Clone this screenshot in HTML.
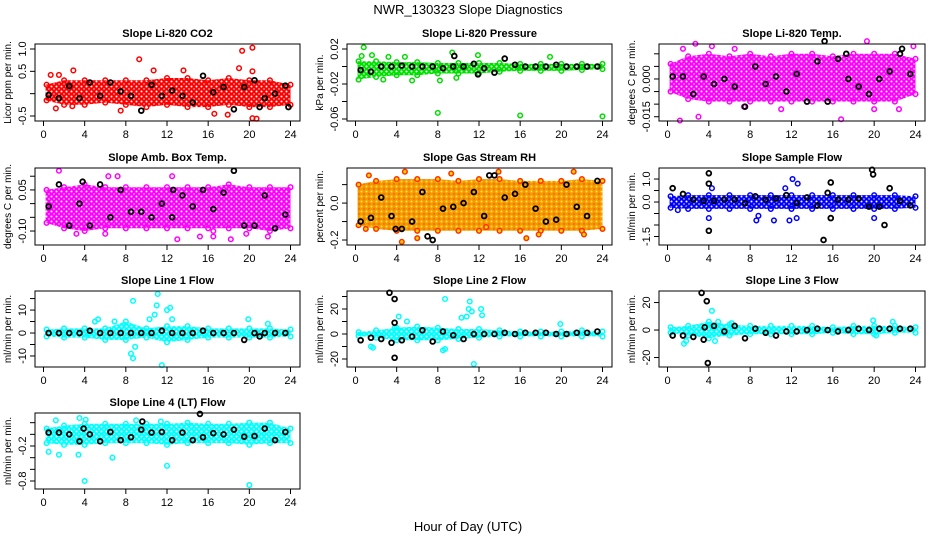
<!DOCTYPE html>
<html><head><meta charset="utf-8"><style>
body{margin:0;background:#fff;}
svg text{font-family:"Liberation Sans",Arial,sans-serif;}
</style></head><body>
<svg id="chart" width="936" height="540" viewBox="0 0 936 540" xmlns="http://www.w3.org/2000/svg">
<rect width="936" height="540" fill="#fff"/>
<defs id="defs"></defs>
<text x="468" y="14" text-anchor="middle" font-size="13">NWR_130323  Slope Diagnostics</text>
<text x="468" y="531" text-anchor="middle" font-size="13">Hour of Day (UTC)</text>
</svg>
<script>
// shared categories
const bandHours = [0,2,4,6,8,10,12,14,16,18,20,22,24];
const blackHours = [0.5,1.5,2.5,3.5,4.5,5.5,6.5,7.5,8.5,9.5,10.5,11.5,12.5,13.5,14.5,15.5,16.5,17.5,18.5,19.5,20.5,21.5,22.5,23.5];
const xTicks = [0,4,8,12,16,20,24];

// panel 1: CO2
const co2Lo = [-0.15,-0.25,-0.25,-0.2,-0.25,-0.3,-0.25,-0.3,-0.3,-0.25,-0.3,-0.3,-0.25];
const co2Hi = [0.2,0.3,0.3,0.3,0.3,0.3,0.35,0.35,0.3,0.35,0.3,0.3,0.2];
const co2Out = [[0.7,0.42],[1.5,0.42],[2.9,0.52],[7.5,-0.38],[9.3,0.77],[10.7,0.52],[13.6,0.52],[16.6,-0.45],[17.9,-0.47],[19.0,0.57],[19.3,0.96],[20.3,1.03],[20.3,0.5],[20.3,-0.55],[20.7,-0.56],[23.8,-0.3],[1.2,-0.33],[2.8,-0.28]];
const co2Black = [-0.03,-0.1,0.17,-0.1,0.25,-0.05,0.25,0.05,-0.05,-0.38,0.2,-0.05,0.07,-0.05,-0.2,0.4,0.03,0.15,-0.35,0.15,0.3,-0.1,0.0,0.18];
const co2BlackOut = [[21.0,-0.3],[23.8,-0.3]];
const co2Ticks = [1.0,0.5,0.0,-0.5];
const co2Labels = ["1.0","0.5","","-0.5"];

// panel 2: pressure
const prLo = [-0.015,-0.012,-0.01,-0.01,-0.008,-0.008,-0.008,-0.006,-0.005,-0.005,-0.005,-0.004,-0.003];
const prHi = [0.006,0.006,0.005,0.005,0.004,0.004,0.004,0.004,0.003,0.003,0.003,0.003,0.003];
const prOut = [[0.8,0.022],[0.6,0.012],[1.6,0.013],[2.7,-0.015],[9.4,0.016],[11.9,0.013],[5.5,-0.016],[8.2,-0.016],[9.8,-0.013],[18.9,0.011],[8,-0.053],[16,-0.056],[24,-0.057],[3.2,0.011],[4.8,0.011]];
const prBlack = [-0.004,-0.006,0,0,0.001,0,0,0,-0.002,0,0,0.003,-0.002,-0.007,0.009,0.002,0,0,0,0.002,0,0,0,0];
const prBlackOut = [[9.6,0.012],[11.9,-0.009]];
const prTicks = [0.02,0.0,-0.02,-0.04,-0.06];
const prLabels = ["0.02","","-0.02","","-0.06"];

// panel 3: Li-820 temp
const ltLo = [-0.005,-0.008,-0.009,-0.009,-0.009,-0.009,-0.009,-0.009,-0.009,-0.009,-0.009,-0.009,-0.006];
const ltHi = [0.006,0.009,0.01,0.009,0.01,0.009,0.01,0.01,0.009,0.01,0.01,0.01,0.008];
const ltOut = [[1.2,-0.0165],[3.0,-0.015],[4.3,0.013],[2.7,0.014],[7.4,-0.011],[11,-0.012],[16.8,-0.016],[19.3,0.015],[20,-0.012],[22.4,-0.012],[23.8,0.013],[6.5,0.012],[1.5,0.012]];
const ltBlack = [0.001,0.001,-0.006,0.001,-0.002,0.0,-0.003,-0.011,0.005,-0.002,0.001,-0.005,0.002,-0.009,0.007,-0.009,0.008,0.0,-0.003,-0.006,0.0,0.003,0.01,0.002];
const ltBlackOut = [[15.2,0.015],[17.3,0.01],[22.7,0.012]];
const ltTicks = [0.01,0.005,0.0,-0.005,-0.01,-0.015];
const ltLabels = ["","","0.000","","","-0.015"];

// panel 4: amb box temp
const abLo = [-0.07,-0.09,-0.1,-0.09,-0.09,-0.09,-0.09,-0.09,-0.09,-0.09,-0.09,-0.1,-0.09];
const abHi = [0.05,0.06,0.07,0.06,0.06,0.06,0.06,0.06,0.06,0.07,0.06,0.06,0.06];
const abOut = [[1.5,0.12],[6.3,0.1],[7.2,0.1],[12.5,0.1],[13.0,-0.13],[15.2,-0.12],[16.5,-0.12],[18.2,-0.13],[16.5,-0.1],[19.7,-0.11],[21.8,-0.12],[6,-0.11],[3.2,-0.11]];
const abBlack = [-0.01,0.07,-0.08,0.0,-0.08,0.07,-0.05,0.05,-0.03,-0.03,-0.05,0.0,-0.05,0.03,-0.01,0.05,-0.02,0.04,0.12,-0.08,-0.08,0.03,-0.09,-0.04];
const abBlackOut = [[3.8,0.08],[12.6,0.05]];
const abTicks = [0.1,0.05,0.0,-0.05,-0.1];
const abLabels = ["","0.05","","","-0.10"];

// panel 5: gas stream RH
const rhLo = [-0.12,-0.14,-0.15,-0.15,-0.15,-0.15,-0.15,-0.15,-0.15,-0.15,-0.15,-0.15,-0.14];
const rhHi = [0.1,0.12,0.13,0.13,0.13,0.12,0.13,0.13,0.12,0.12,0.12,0.13,0.12];
const rhOut = [[1.3,0.15],[4.8,0.17],[6,-0.19],[9.3,0.16],[12.7,-0.13],[13.9,0.17],[16.6,-0.19],[17.8,-0.17],[21.2,0.17],[22.2,-0.17],[4.5,-0.21],[1,-0.14]];
const rhBlack = [-0.1,-0.08,0.03,-0.07,-0.14,-0.1,0.06,-0.2,-0.03,-0.02,0.0,0.06,-0.07,0.15,0.03,0.05,0.1,-0.03,-0.1,-0.09,0.1,-0.02,-0.07,0.12];
const rhBlackOut = [[3.9,-0.14],[7.0,-0.18],[13.0,0.15]];
const rhTicks = [0.1,0.0,-0.1,-0.2];
const rhLabels = ["","0.0","","-0.2"];

// panel 6: sample flow
const sfLo = [-0.25,-0.3,-0.3,-0.3,-0.3,-0.3,-0.3,-0.3,-0.3,-0.3,-0.3,-0.3,-0.25];
const sfHi = [0.25,0.3,0.3,0.3,0.3,0.3,0.3,0.3,0.3,0.3,0.3,0.3,0.25];
const sfOut = [[4.3,0.6],[4.0,-0.7],[8.6,-0.8],[10.3,-0.8],[11.4,0.6],[12.1,1.0],[12.6,0.8],[12.5,-0.7],[20.0,-0.7],[8.8,-0.6],[11.8,-0.8],[1.0,-0.35]];
const sfBlack = [0.6,0.35,0.1,0.05,0.05,0.1,0.1,-0.05,0.25,0.1,0.15,0.3,-0.05,0.2,-0.15,0.4,0.1,0.1,0.15,-0.2,-0.2,0.6,0.05,-0.15];
const sfBlackOut = [[4,1.25],[4,0.8],[4,-1.25],[15.1,-1.65],[15.8,0.85],[15.8,-0.7],[19.8,1.4],[19.9,1.2],[21,-1.0]];
const sfTicks = [1.0,0.5,0.0,-0.5,-1.0,-1.5];
const sfLabels = ["1.0","","0.0","","","-1.5"];

// panel 7: line 1
const l1Lo = [-1.5,-2,-2,-3,-3,-2,-4,-3,-2,-2,-2,-2,-1.5];
const l1Hi = [1.5,2,2,2,5,2,3,3,2,2,2,2,1.5];
const l1Out = [[8.7,14],[8.5,-9],[8.7,-11],[8.9,-6],[10.3,6],[10.8,8],[11,12],[11.1,17],[11.5,-14],[12,10],[12.3,11],[12.5,6],[6.9,5],[19.9,6],[21.8,4],[5.0,5],[5.3,6]];
const l1Black = [0,0,0,0,1,0,0,0,0,0,0,1,0,0,0,1,0,0,0,-3,0,0,0,0];
const l1BlackOut = [[21,-1.5]];
const l1Ticks = [15,10,5,0,-5,-10];
const l1Labels = ["","10","","0","","-10"];

// panel 8: line 2
const l2Lo = [-1.5,-3,-5,-5,-5,-4,-3,-2,-2,-2,-2,-2,-2];
const l2Hi = [1.5,3,5,6,5,4,4,3,2,2,2,3,2];
const l2Out = [[1.5,-10],[3.8,5],[4.2,14],[5,10],[8.7,28],[8.5,-13],[8.7,-12],[10.3,13],[10.8,14],[11.1,26],[11,20],[11.3,18],[12.2,20],[12.3,15],[11.5,-24],[19.9,8],[1.7,-11]];
const l2Black = [-5,-3,-4,-7,-5,-2,3,-6,2,-1,-4,0,0,0,1,0,1,1,1,0,0,1,1,2];
const l2BlackOut = [[3.3,33],[3.8,28],[3.8,9],[3.8,-19]];
const l2Ticks = [30,20,10,0,-10,-20];
const l2Labels = ["","20","","0","","-20"];

// panel 9: line 3
const l3Lo = [-2,-4,-6,-4,-3,-3,-3,-3,-2,-3,-3,-2,-2];
const l3Hi = [2,3,6,4,3,3,3,3,2,3,3,3,2];
const l3Out = [[1.6,-10],[1.8,-8],[4.3,14],[4.6,-8],[4.9,6],[6.2,5],[19.9,7],[21.8,6],[20.2,-4]];
const l3Black = [-4,-4,-5,-7,3,-1,3,-6,1,-2,-4,-1,-1,0,1,0,-1,0,1,0,1,1,1,1];
const l3BlackOut = [[3.3,27],[3.8,21],[3.9,-24],[3.6,2]];
const l3Ticks = [20,0,-20];
const l3Labels = ["20","0","-20"];

// panel 10: line 4 (LT)
const l4Lo = [-0.15,-0.18,-0.18,-0.15,-0.15,-0.15,-0.18,-0.15,-0.15,-0.15,-0.18,-0.15,-0.15];
const l4Hi = [0.1,0.15,0.18,0.18,0.18,0.18,0.18,0.2,0.18,0.18,0.2,0.2,0.1];
const l4Out = [[0.5,-0.3],[1.5,-0.35],[3.4,-0.35],[3.5,0.28],[4.1,0.25],[6.7,-0.4],[1.2,0.24],[12,-0.54],[4,-0.8],[20,-0.87],[11.4,0.22],[9,0.24]];
const l4Black = [0.03,0.03,0.0,-0.12,0.0,-0.12,0.04,-0.1,-0.05,0.08,0.03,0.04,-0.1,0.03,-0.1,-0.05,0.02,0.0,0.08,-0.04,-0.03,0.1,-0.1,0.04];
const l4BlackOut = [[15.2,0.35],[9.6,0.22],[3.9,0.1]];
const l4Ticks = [0.2,0.0,-0.2,-0.4,-0.6,-0.8];
const l4Labels = ["","","-0.2","","","-0.8"];

const panels = [
 {name:"co2",title:"Slope Li-820 CO2",yl:"Licor ppm per min.",L:35,R:300,T:44,B:121,ymin:-0.612,ymax:1.112,lo:co2Lo,hi:co2Hi,out:co2Out,blk:co2Black,blkOut:co2BlackOut,ticks:co2Ticks,labels:co2Labels,col:"#ff0000",fill:"none"},
 {name:"pressure",title:"Slope Li-820 Pressure",yl:"kPa per min.",L:347,R:612,T:44,B:121,ymin:-0.0623,ymax:0.0257,lo:prLo,hi:prHi,out:prOut,blk:prBlack,blkOut:prBlackOut,ticks:prTicks,labels:prLabels,col:"#00dd00",fill:"none"},
 {name:"li820-temp",title:"Slope Li-820 Temp.",yl:"degrees C per min.",L:659,R:925,T:44,B:121,ymin:-0.0167,ymax:0.0139,lo:ltLo,hi:ltHi,out:ltOut,blk:ltBlack,blkOut:ltBlackOut,ticks:ltTicks,labels:ltLabels,col:"#ff00ff",fill:"none"},
 {name:"amb-box-temp",title:"Slope Amb. Box Temp.",yl:"degrees C per min.",L:35,R:300,T:168,B:245,ymin:-0.151,ymax:0.13,lo:abLo,hi:abHi,out:abOut,blk:abBlack,blkOut:abBlackOut,ticks:abTicks,labels:abLabels,col:"#ff00ff",fill:"none"},
 {name:"gas-stream-rh",title:"Slope Gas Stream RH",yl:"percent per min.",L:347,R:612,T:168,B:245,ymin:-0.227,ymax:0.19,lo:rhLo,hi:rhHi,out:rhOut,blk:rhBlack,blkOut:rhBlackOut,ticks:rhTicks,labels:rhLabels,col:"#ff3000",fill:"#ffd800",band:"#f29a00"},
 {name:"sample-flow",title:"Slope Sample Flow",yl:"ml/min per min.",L:659,R:925,T:168,B:245,ymin:-1.87,ymax:1.48,lo:sfLo,hi:sfHi,out:sfOut,blk:sfBlack,blkOut:sfBlackOut,ticks:sfTicks,labels:sfLabels,col:"#0000ff",fill:"none"},
 {name:"line1-flow",title:"Slope Line 1 Flow",yl:"ml/min per min.",L:35,R:300,T:291,B:367,ymin:-14.8,ymax:18.3,lo:l1Lo,hi:l1Hi,out:l1Out,blk:l1Black,blkOut:l1BlackOut,ticks:l1Ticks,labels:l1Labels,col:"#00ffff",fill:"none"},
 {name:"line2-flow",title:"Slope Line 2 Flow",yl:"ml/min per min.",L:347,R:612,T:291,B:367,ymin:-26.4,ymax:34.4,lo:l2Lo,hi:l2Hi,out:l2Out,blk:l2Black,blkOut:l2BlackOut,ticks:l2Ticks,labels:l2Labels,col:"#00ffff",fill:"none"},
 {name:"line3-flow",title:"Slope Line 3 Flow",yl:"ml/min per min.",L:659,R:925,T:291,B:367,ymin:-26.9,ymax:28.4,lo:l3Lo,hi:l3Hi,out:l3Out,blk:l3Black,blkOut:l3BlackOut,ticks:l3Ticks,labels:l3Labels,col:"#00ffff",fill:"none"},
 {name:"line4-flow",title:"Slope Line 4 (LT) Flow",yl:"ml/min per min.",L:35,R:300,T:413,B:489,ymin:-0.937,ymax:0.366,lo:l4Lo,hi:l4Hi,out:l4Out,blk:l4Black,blkOut:l4BlackOut,ticks:l4Ticks,labels:l4Labels,col:"#00ffff",fill:"none"}
];

const NS = "http://www.w3.org/2000/svg";
const svg = document.getElementById('chart');
const defs = document.getElementById('defs');
function mk(tag, attrs, parent){
  const e = document.createElementNS(NS, tag);
  for (const k in attrs) e.setAttribute(k, attrs[k]);
  parent.appendChild(e);
  return e;
}

panels.forEach(p => {
  // speckle pattern for the dense point band
  const pat = mk('pattern', {id:'pat-'+p.name, width:5, height:5, patternUnits:'userSpaceOnUse'}, defs);
  mk('rect', {width:5, height:5, fill: p.band || p.col}, pat);
  mk('circle', {cx:1.5, cy:1.5, r:1, fill: p.band ? '#ffe24a' : '#fff'}, pat);
  mk('circle', {cx:4, cy:4, r:0.7, fill: p.band ? '#ff4000' : '#fff'}, pat);

  const g = mk('g', {}, svg);
  
  
  const x0 = p.L + 8.5, x1 = p.R - 9.5;
  const sx = h => x0 + (x1 - x0) * h / 24;
  const sy = v => p.B - (v - p.ymin) / (p.ymax - p.ymin) * (p.B - p.T);

  const t = mk('text', {x:(p.L+p.R)/2, y:p.T-7, 'text-anchor':'middle', 'font-size':11, 'font-weight':'bold'}, g);
  t.textContent = p.title;
  
  

  let pts = [];
  bandHours.forEach((h,i) => pts.push([sx(Math.max(h,0.2)), sy(p.hi[i])]));
  for (let i = bandHours.length-1; i >= 0; i--) pts.push([sx(Math.max(bandHours[i],0.2)), sy(p.lo[i])]);
  const band = mk('polygon', {points: pts.map(q=>q[0].toFixed(1)+','+q[1].toFixed(1)).join(' '), fill: 'url(#pat-'+p.name+')', stroke: 'none'}, g);
  
  

  bandHours.forEach((h,i) => {
    [p.hi[i], p.lo[i]].forEach(v => {
      const c = mk('circle', {cx: sx(Math.max(h,0.3)), cy: sy(v), r: 2.3, fill: p.fill, stroke: p.col, 'stroke-width': 1.5}, g);
      
      
    });
  });
  p.out.forEach(o => {
    const c = mk('circle', {cx: sx(o[0]), cy: sy(o[1]), r: 2.3, fill: p.fill, stroke: p.col, 'stroke-width': 1.5}, g);
    
    
  });
  blackHours.forEach((h,i) => {
    const c = mk('circle', {cx: sx(h), cy: sy(p.blk[i]), r: 2.4, fill: 'none', stroke: '#000', 'stroke-width': 1.8}, g);
    
    
  });
  p.blkOut.forEach(o => {
    const c = mk('circle', {cx: sx(o[0]), cy: sy(o[1]), r: 2.4, fill: 'none', stroke: '#000', 'stroke-width': 1.8}, g);
    
    
  });

  const box = mk('rect', {x:p.L, y:p.T, width:p.R-p.L, height:p.B-p.T, fill:'none', stroke:'#000', 'stroke-width':1}, g);
  
  

  const xa = mk('g', {}, g);
  
  
  xTicks.forEach(h => {
    mk('line', {x1:sx(h), x2:sx(h), y1:p.B, y2:p.B+5, stroke:'#000'}, xa);
    const lt = mk('text', {x:sx(h), y:p.B+17, 'text-anchor':'middle', 'font-size':11}, xa);
    lt.textContent = h;
  });
  const ya = mk('g', {}, g);
  
  
  p.ticks.forEach((v,i) => {
    const y = sy(v);
    mk('line', {x1:p.L-5, x2:p.L, y1:y, y2:y, stroke:'#000'}, ya);
    if (p.labels[i]) {
      const lt = mk('text', {x:p.L-9, y:y, 'text-anchor':'middle', 'font-size':11, transform:`rotate(-90 ${p.L-9} ${y})`}, ya);
      lt.textContent = p.labels[i];
    }
  });
  const yt = mk('text', {x:p.L-24, y:(p.T+p.B)/2, 'text-anchor':'middle', 'font-size':10, transform:`rotate(-90 ${p.L-24} ${(p.T+p.B)/2})`}, g);
  yt.textContent = p.yl;
  
  
});
</script>
</body></html>
